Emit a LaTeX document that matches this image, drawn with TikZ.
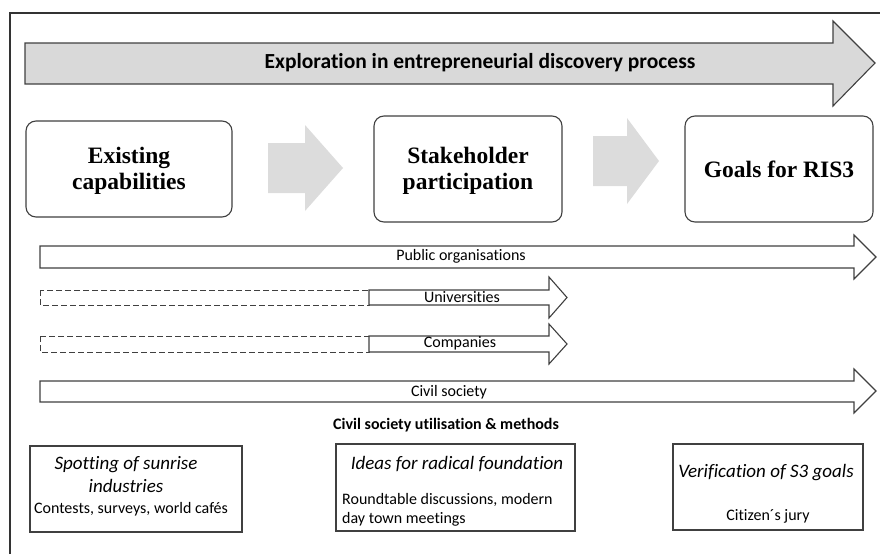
\documentclass[tikz,border=0pt]{standalone}
\usepackage{fontspec}
\setmainfont{Liberation Serif}
\newfontfamily\calfont[Ligatures=NoCommon]{Carlito}
\definecolor{lineg}{HTML}{404040}
\definecolor{fillg}{HTML}{D9D9D9}
\definecolor{blockg}{HTML}{DCDCDC}
\begin{document}
\begin{tikzpicture}[x=1pt,y=-1pt,
  frame/.style={draw=black!80, line width=1.2pt},
  bigarrow/.style={draw=lineg, fill=fillg, line width=1.1pt, line join=miter},
  blockarrow/.style={fill=blockg},
  rowarrow/.style={draw=lineg, fill=white, line width=1.1pt},
  dashbox/.style={draw=lineg, line width=0.9pt, dash pattern=on 6pt off 3pt},
  mainbox/.style={draw=lineg, line width=1.1pt, rounded corners=10pt, fill=white, align=center, inner sep=0pt,
    font=\bfseries\fontsize{23.5}{26}\selectfont},
  methbox/.style={draw=lineg, line width=1.1pt, inner sep=0pt},
  rowlabel/.style={font=\calfont\fontsize{16}{18}\selectfont, inner sep=0pt},
  ttl/.style={font=\calfont\itshape\fontsize{19}{23}\selectfont, align=center, inner sep=0pt},
  meth/.style={font=\calfont\fontsize{16}{19}\selectfont, inner sep=0pt}]
\useasboundingbox (0,0) rectangle (880,554);
\draw[frame] (10,554) -- (10,13) -- (880,13);
% top process arrow
\draw[bigarrow] (25,43) -- (833,43) -- (833,21) -- (875,63) -- (833,106) -- (833,84) -- (25,84) -- cycle;
\node[font=\calfont\bfseries\fontsize{21.5}{24}\selectfont, inner sep=0pt] (edp) at (480,63) {Exploration in entrepreneurial discovery process};
% main boxes
\node[mainbox, minimum width=206, minimum height=96] (exist) at (129,169) {};
\node[font=\bfseries\fontsize{23.5}{26}\selectfont, align=center, inner sep=0pt] (existT) at (129,171) {Existing\\capabilities};
\node[mainbox, minimum width=188, minimum height=106] (stake) at (468,169) {};
\node[font=\bfseries\fontsize{23.5}{26}\selectfont, align=center, inner sep=0pt] (stakeT) at (468,171) {Stakeholder\\participation};
\node[mainbox, minimum width=188, minimum height=106] (goals) at (779,169) {Goals for RIS3};
% gray block arrows
\fill[blockarrow] (268,143) -- (305,143) -- (305,125) -- (343,168) -- (305,211) -- (305,193) -- (268,193) -- cycle;
\fill[blockarrow] (593,136) -- (627,136) -- (627,118) -- (659,161) -- (627,204) -- (627,186) -- (593,186) -- cycle;
% stakeholder rows
\draw[rowarrow] (40,246) -- (854,246) -- (854,235) -- (876,257) -- (854,279) -- (854,268) -- (40,268) -- cycle;
\node[rowlabel] (pub) at (461,256) {Public organisations};
\draw[dashbox] (40,290) rectangle (369,305);
\draw[rowarrow] (369,290) -- (549,290) -- (549,277) -- (567,297.5) -- (549,318) -- (549,305) -- (369,305) -- cycle;
\node[rowlabel] (uni) at (462,297) {Universities};
\draw[dashbox] (40,336) rectangle (369,352);
\draw[rowarrow] (369,336) -- (549,336) -- (549,324) -- (567,344) -- (549,364) -- (549,352) -- (369,352) -- cycle;
\node[rowlabel] (comp) at (460,343) {Companies};
\draw[rowarrow] (40,381) -- (854,381) -- (854,369) -- (876,391) -- (854,413) -- (854,402) -- (40,402) -- cycle;
\node[rowlabel] (civ) at (449,392) {Civil society};
\node[font=\calfont\bfseries\fontsize{16}{18}\selectfont, inner sep=0pt] (util) at (446,425) {Civil society utilisation \& methods};
% method boxes
\node[methbox, minimum width=212, minimum height=86] (b1) at (136,489) {};
\node[methbox, minimum width=239, minimum height=87] (b2) at (455.5,487.5) {};
\node[methbox, minimum width=190, minimum height=86] (b3) at (768,487) {};
\node[ttl] (t1) at (126,474.5) {Spotting of sunrise\\industries};
\node[meth] (m1) at (131,509) {Contests, surveys, world cafés};
\node[ttl] (t2) at (457,464) {Ideas for radical foundation};
\node[meth, align=left, anchor=west] (m2) at (342,509.5) {Roundtable discussions, modern\\day town meetings};
\node[ttl] (t3) at (766,473) {Verification of S3 goals};
\node[meth] (m3) at (768,516) {Citizen´s jury};
\end{tikzpicture}
\end{document}
